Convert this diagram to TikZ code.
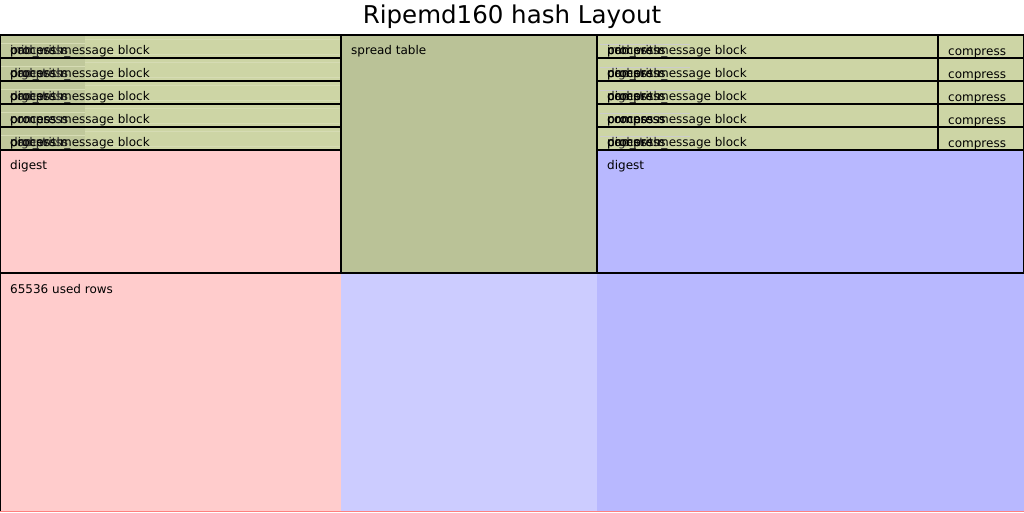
\documentclass[tikz,border=0pt]{standalone}
\usepackage{fontspec}
\setmainfont{DejaVu Sans}
\definecolor{rowgreen}{RGB}{205,213,165}
\definecolor{rowdark}{RGB}{192,200,155}
\definecolor{stripe}{RGB}{214,220,180}
\definecolor{spread}{RGB}{186,194,151}
\definecolor{pinkc}{RGB}{255,204,204}
\definecolor{lavc}{RGB}{204,204,255}
\definecolor{bluec}{RGB}{184,184,255}
\tikzset{
  region/.style={draw=black, line width=1.1pt},
  lbl/.style={anchor=base west, inner sep=0pt, font=\fontsize{12}{14}\selectfont},
  ghost/.style={lbl, text=black!85},
  titlestyle/.style={anchor=center, inner sep=0pt, font=\fontsize{24.5}{28}\selectfont}
}
\begin{document}
\begin{tikzpicture}[x=1pt,y=-1pt]
\useasboundingbox (0,0) rectangle (1024,512);
\fill[white] (0,0) rectangle (1024,512);
\node[titlestyle] (title) at (512,17) {Ripemd160 hash Layout};
% bottom regions
\fill[pinkc] (0,273) rectangle (341,512);
\fill[lavc] (341,273) rectangle (597,512);
\fill[bluec] (597,273) rectangle (1024,512);
\draw[region] (0,273) -- (0,512);
\draw[red!50, line width=0.6pt] (0,511.5) -- (1024,511.5);
% digests
\fill[pinkc] (0,150) rectangle (341,273);
\draw[region] (0,150) rectangle (341,273);
\fill[bluec] (597,150) rectangle (1024,273);
\draw[region] (597,150) rectangle (1024,273);
% spread table
\fill[spread] (341,35) rectangle (597,273);
\draw[region] (341,35) rectangle (597,273);
% rows
\foreach \i in {0,...,4}{
  \pgfmathsetmacro{\yt}{35+23*\i}
  \pgfmathsetmacro{\yb}{58+23*\i}
  \fill[rowgreen] (0,\yt) rectangle (341,\yb);
  \fill[rowdark] (0,\yt) rectangle (85,\yb);
  \draw[stripe, line width=0.8pt] (85,\yt+4) -- (341,\yt+4);
  \draw[stripe, line width=0.8pt] (85,\yt+19) -- (341,\yt+19);
  \draw[stripe, line width=0.6pt] (0,\yt+8) -- (85,\yt+8);
  \draw[region] (0,\yt) rectangle (341,\yb);
  \fill[rowgreen] (597,\yt) rectangle (1024,\yb);
  \draw[black!20, line width=0.5pt] (600,\yt+9) -- (690,\yt+9);
  \draw[region] (597,\yt) rectangle (1024,\yb);
  \draw[region] (938,\yt) -- (938,\yb);
}
% row labels (overlapping as in the reference)
\foreach \i/\a/\b in {0/init/pad\_with\_,1/digest/pad\_with\_,2/digest/pad\_with\_,3/compress/process,4/digest/pad\_with\_}{
  \pgfmathsetmacro{\yl}{54+23*\i}
  \node[ghost] (lg\i a) at (10,\yl) {\a};
  \node[ghost] (lg\i b) at (10,\yl) {\b};
  \node[ghost] (lg\i c) at (10,\yl) {compress};
  \node[lbl] (l\i) at (10,\yl) {process message block};
  \node[ghost] (rg\i a) at (607,\yl) {\a};
  \node[ghost] (rg\i b) at (607,\yl) {\b};
  \node[lbl] (rg\i c) at (607.5,\yl) {compress};
  \node[lbl] (r\i) at (607,\yl) {process message block};
  \node[lbl] (c\i) at (948,\yl+1) {compress};
}
\node[lbl] (dl) at (10,169) {digest};
\node[lbl] (dr) at (607,169) {digest};
\node[lbl] (sp) at (351,54) {spread table};
\node[lbl] (used) at (10,293) {65536 used rows};
\end{tikzpicture}
\end{document}
